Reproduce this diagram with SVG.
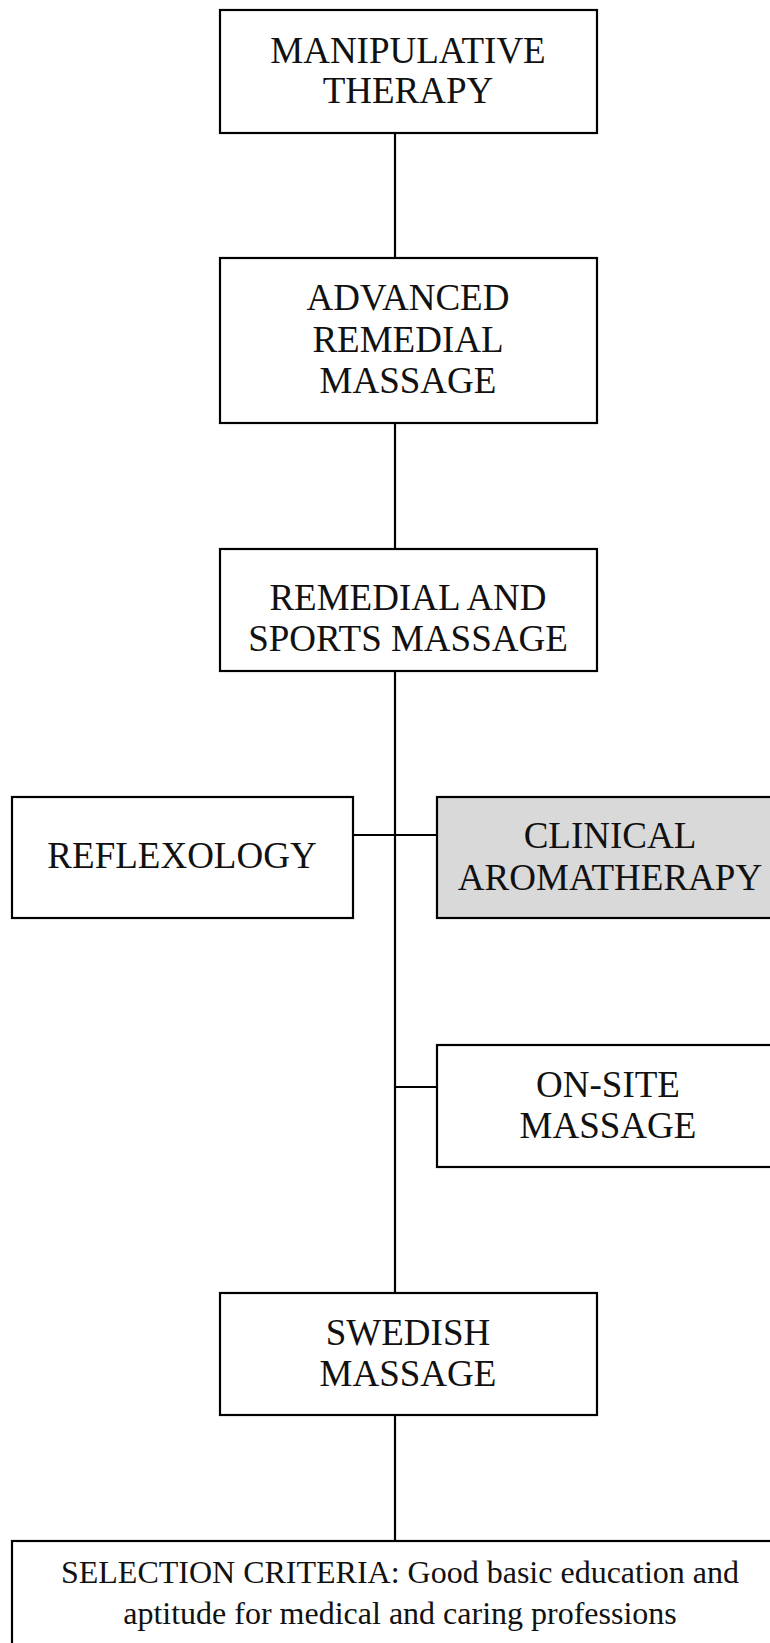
<svg xmlns="http://www.w3.org/2000/svg" width="770" height="1643" viewBox="0 0 770 1643">
<style>
.box{fill:#ffffff;stroke:#000000;stroke-width:2.2}
.grey{fill:#d9d9d9}
.lbl{font-family:"Liberation Serif","DejaVu Serif",serif;font-size:37px;fill:#111111;text-anchor:middle}
.sel{font-size:32px}
.conn{stroke:#000000;stroke-width:2.2;fill:none}
</style>
<rect width="770" height="1643" fill="#ffffff"/>
<g id="connectors">
<line class="conn" x1="395" y1="133" x2="395" y2="258"/>
<line class="conn" x1="395" y1="423" x2="395" y2="549"/>
<line class="conn" x1="395" y1="671" x2="395" y2="1293"/>
<line class="conn" x1="395" y1="1415" x2="395" y2="1541"/>
<line class="conn" x1="353" y1="835" x2="437" y2="835"/>
<line class="conn" x1="395" y1="1087" x2="437" y2="1087"/>
</g>
<g id="manipulative">
<rect class="box" x="220" y="10" width="377" height="123"/>
<text class="lbl" x="408" y="63">MANIPULATIVE</text>
<text class="lbl" x="408" y="103">THERAPY</text>
</g>
<g id="advanced">
<rect class="box" x="220" y="258" width="377" height="165"/>
<text class="lbl" x="408" y="310">ADVANCED</text>
<text class="lbl" x="408" y="352">REMEDIAL</text>
<text class="lbl" x="408" y="393">MASSAGE</text>
</g>
<g id="remedial">
<rect class="box" x="220" y="549" width="377" height="122"/>
<text class="lbl" x="408" y="610">REMEDIAL AND</text>
<text class="lbl" x="408" y="651">SPORTS MASSAGE</text>
</g>
<g id="reflexology">
<rect class="box" x="12" y="797" width="341" height="121"/>
<text class="lbl" x="182" y="868">REFLEXOLOGY</text>
</g>
<g id="clinical">
<rect class="box grey" x="437" y="797" width="345" height="121"/>
<text class="lbl" x="610" y="848">CLINICAL</text>
<text class="lbl" x="610" y="890">AROMATHERAPY</text>
</g>
<g id="onsite">
<rect class="box" x="437" y="1045" width="345" height="122"/>
<text class="lbl" x="608" y="1097">ON-SITE</text>
<text class="lbl" x="608" y="1138">MASSAGE</text>
</g>
<g id="swedish">
<rect class="box" x="220" y="1293" width="377" height="122"/>
<text class="lbl" x="408" y="1345">SWEDISH</text>
<text class="lbl" x="408" y="1386">MASSAGE</text>
</g>
<g id="selection">
<rect class="box" x="12" y="1541" width="776" height="120"/>
<text class="lbl sel" x="400" y="1583">SELECTION CRITERIA: Good basic education and</text>
<text class="lbl sel" x="400" y="1624">aptitude for medical and caring professions</text>
</g>
</svg>
